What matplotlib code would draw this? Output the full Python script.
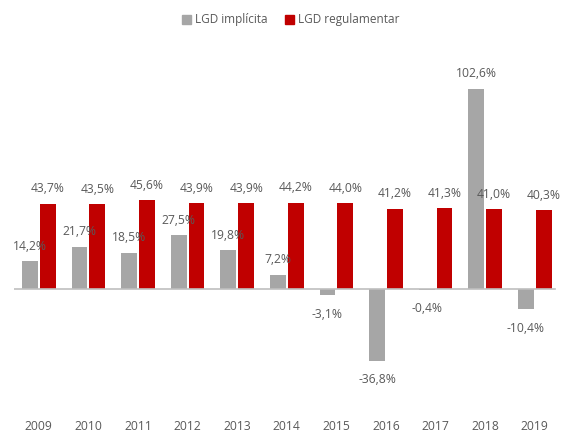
import matplotlib
matplotlib.use("Agg")
import matplotlib.pyplot as plt
from matplotlib.patches import Patch
import numpy as np

years = ["2009", "2010", "2011", "2012", "2013", "2014", "2015", "2016", "2017", "2018", "2019"]
lgd_implicita = [14.2, 21.7, 18.5, 27.5, 19.8, 7.2, -3.1, -36.8, -0.4, 102.6, -10.4]
lgd_regulamentar = [43.7, 43.5, 45.6, 43.9, 43.9, 44.2, 44.0, 41.2, 41.3, 41.0, 40.3]
series_names = ["LGD implícita", "LGD regulamentar"]

GRAY = "#A6A6A6"
RED = "#C00000"
TXT = "#595959"
plt.rcParams['font.family'] = ['Open Sans', 'DejaVu Sans']

W, H = 564, 432
fig = plt.figure(figsize=(W / 100, H / 100), dpi=100)
# axes in pixel coords
left, right, top, bottom = 14, 559.6, 40, 410
ax = fig.add_axes([left / W, 1 - bottom / H, (right - left) / W, (bottom - top) / H])

zero_px = 289
ppu = 1.95
ax.set_ylim(-(bottom - zero_px) / ppu, (zero_px - top) / ppu)
ax.set_xlim(-0.5, 10.5)

x = np.arange(len(years))
bw = 0.32
off = 0.18
b1 = ax.bar(x - off, lgd_implicita, bw, color=GRAY, zorder=2)
b2 = ax.bar(x + off, lgd_regulamentar, bw, color=RED, zorder=2)

def fmt(v):
    return f"{v:.1f}%".replace(".", ",")

for bars, vals in ((b1, lgd_implicita), (b2, lgd_regulamentar)):
    for rect, v in zip(bars, vals):
        cx = rect.get_x() + rect.get_width() / 2
        if v >= 0:
            ax.annotate(fmt(v), (cx, v), xytext=(0, 15), textcoords='offset pixels',
                        ha='center', va='center', fontsize=8.7, color=TXT)
        else:
            ax.annotate(fmt(v), (cx, v), xytext=(0, -19), textcoords='offset pixels',
                        ha='center', va='center', fontsize=8.7, color=TXT)

ax.axhline(0, xmin=0, xmax=(555 - left) / (right - left), color="#BFBFBF", lw=1.2, zorder=3)

for s in ax.spines.values():
    s.set_visible(False)
ax.set_yticks([])
ax.set_xticks(x)
ax.set_xticklabels(years, fontsize=8.7, color=TXT)
ax.tick_params(axis='x', length=0, pad=7)

handles = [Patch(color=GRAY), Patch(color=RED)]
fig.legend(handles, series_names, loc='center', bbox_to_anchor=(291 / W, 1 - 20 / H),
           ncol=2, frameon=False, fontsize=8.5, labelcolor=TXT,
           handlelength=0.75, handleheight=0.75, handletextpad=0.35, columnspacing=1.5)

fig.savefig("out.png", dpi=100)
